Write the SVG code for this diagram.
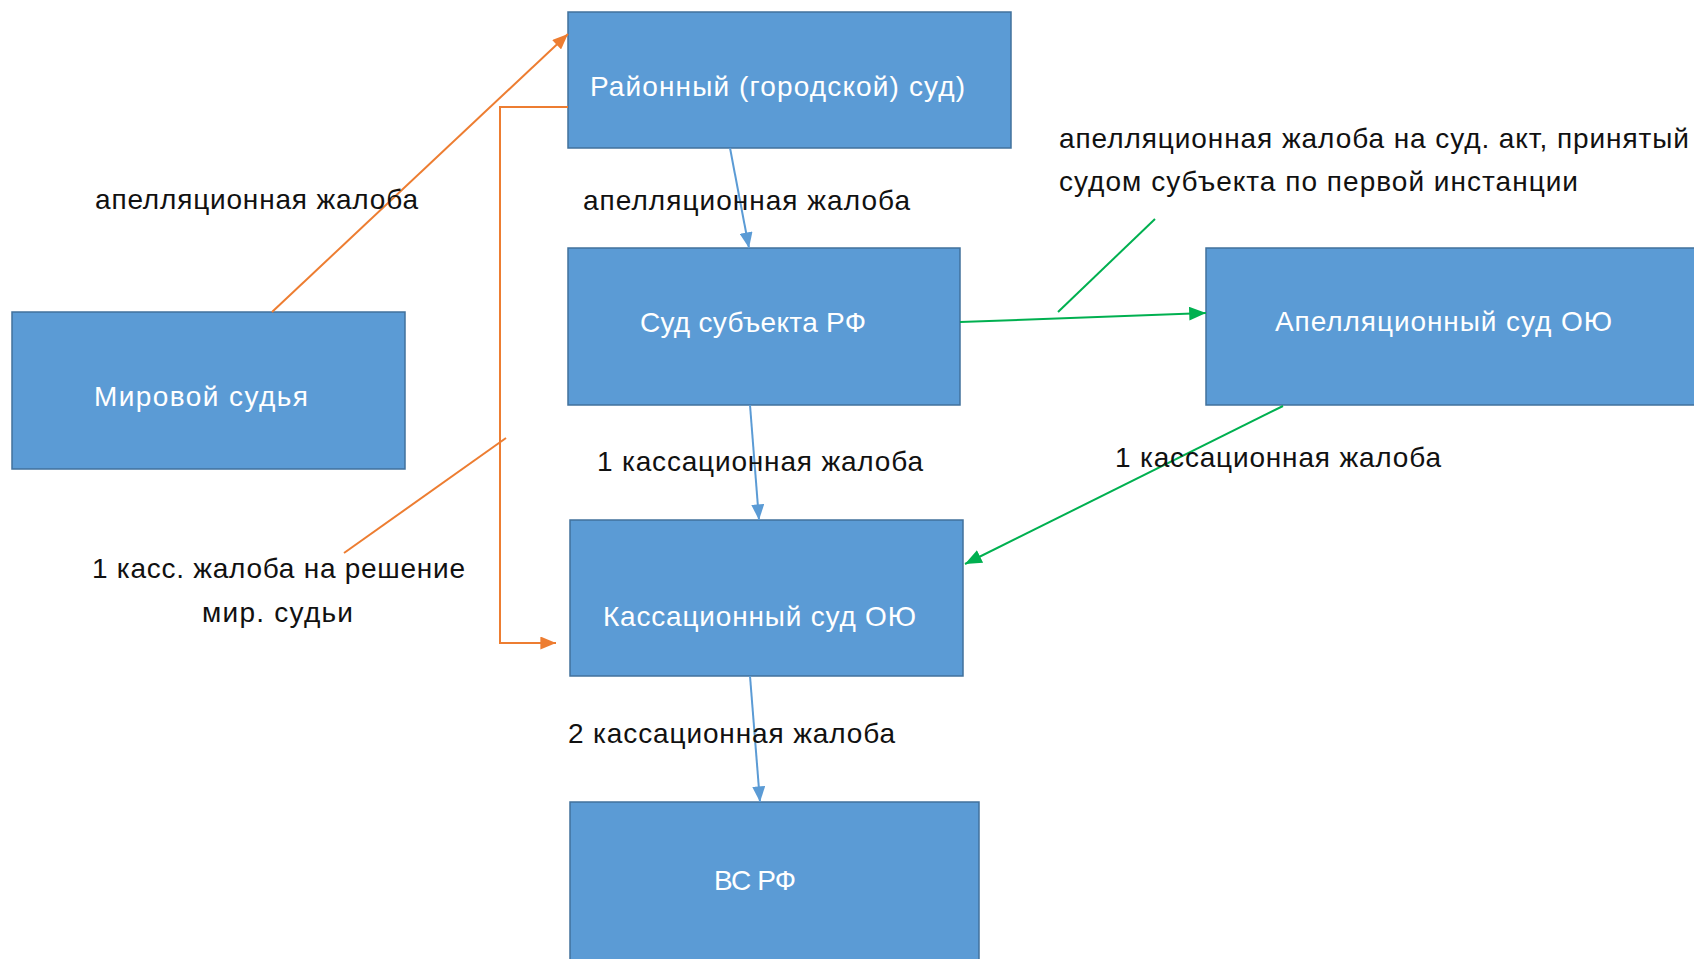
<svg xmlns="http://www.w3.org/2000/svg" width="1694" height="959" viewBox="0 0 1694 959">
<style>
.node{fill:#5b9bd5;stroke:#41719c;stroke-width:1.5}
.nt{font-family:"Liberation Sans",Arial,sans-serif;font-size:28px;fill:#ffffff}
.lb{font-family:"Liberation Sans",Arial,sans-serif;font-size:28px;fill:#111111}
.or{stroke:#ed7d31;stroke-width:2;fill:none}
.gr{stroke:#00b050;stroke-width:2;fill:none}
.bl{stroke:#5b9bd5;stroke-width:2;fill:none}
</style>
<defs>
<marker id="ao" viewBox="0 0 12 10" refX="12" refY="5" markerWidth="16" markerHeight="13" markerUnits="userSpaceOnUse" orient="auto"><path d="M0,0 L12,5 L0,10 z" fill="#ed7d31"/></marker>
<marker id="ag" viewBox="0 0 12 10" refX="12" refY="5" markerWidth="17" markerHeight="14" markerUnits="userSpaceOnUse" orient="auto"><path d="M0,0 L12,5 L0,10 z" fill="#00b050"/></marker>
<marker id="ab" viewBox="0 0 12 10" refX="12" refY="5" markerWidth="16" markerHeight="13" markerUnits="userSpaceOnUse" orient="auto"><path d="M0,0 L12,5 L0,10 z" fill="#5b9bd5"/></marker>
</defs>
<rect width="1694" height="959" fill="#ffffff"/>
<g id="n-mirovoy"><rect class="node" x="12" y="312" width="393" height="157"/><text class="nt" x="94" y="406" textLength="214">Мировой судья</text></g>
<g id="n-rayonny"><rect class="node" x="568" y="12" width="443" height="136"/><text class="nt" x="590" y="96" textLength="375">Районный (городской) суд)</text></g>
<g id="n-subekt"><rect class="node" x="568" y="248" width="392" height="157"/><text class="nt" x="640" y="332" textLength="226">Суд субъекта РФ</text></g>
<g id="n-apell"><rect class="node" x="1206" y="248" width="500" height="157"/><text class="nt" x="1275" y="331" textLength="337">Апелляционный суд ОЮ</text></g>
<g id="n-kass"><rect class="node" x="570" y="520" width="393" height="156"/><text class="nt" x="603" y="626" textLength="313">Кассационный суд ОЮ</text></g>
<g id="n-vs"><rect class="node" x="570" y="802" width="409" height="170"/><text class="nt" x="714" y="890" textLength="82">ВС РФ</text></g>
<g id="connectors">
<line class="or" x1="272" y1="312" x2="568" y2="34" marker-end="url(#ao)"/>
<polyline class="or" points="568,107 500,107 500,643 556,643" marker-end="url(#ao)"/>
<line class="or" x1="344" y1="553" x2="506" y2="438"/>
<line class="bl" x1="730" y1="148" x2="749" y2="248" marker-end="url(#ab)"/>
<line class="bl" x1="750" y1="405" x2="759" y2="520" marker-end="url(#ab)"/>
<line class="bl" x1="750" y1="676" x2="760" y2="802" marker-end="url(#ab)"/>
<line class="gr" x1="960" y1="322" x2="1206" y2="313" marker-end="url(#ag)"/>
<line class="gr" x1="1058" y1="312" x2="1155" y2="219"/>
<line class="gr" x1="1283" y1="406" x2="965" y2="564" marker-end="url(#ag)"/>
</g>
<g id="labels">
<text class="lb" x="95" y="209" textLength="323">апелляционная жалоба</text>
<text class="lb" x="583" y="210" textLength="327">апелляционная жалоба</text>
<text class="lb" x="1059" y="148" textLength="630">апелляционная жалоба на суд. акт, принятый</text>
<text class="lb" x="1059" y="191" textLength="519">судом субъекта по первой инстанции</text>
<text class="lb" x="597" y="471" textLength="326">1 кассационная жалоба</text>
<text class="lb" x="1115" y="467" textLength="326">1 кассационная жалоба</text>
<text class="lb" x="92" y="578" textLength="373">1 касс. жалоба на решение</text>
<text class="lb" x="202" y="622" textLength="151">мир. судьи</text>
<text class="lb" x="568" y="743" textLength="327">2 кассационная жалоба</text>
</g>
</svg>
